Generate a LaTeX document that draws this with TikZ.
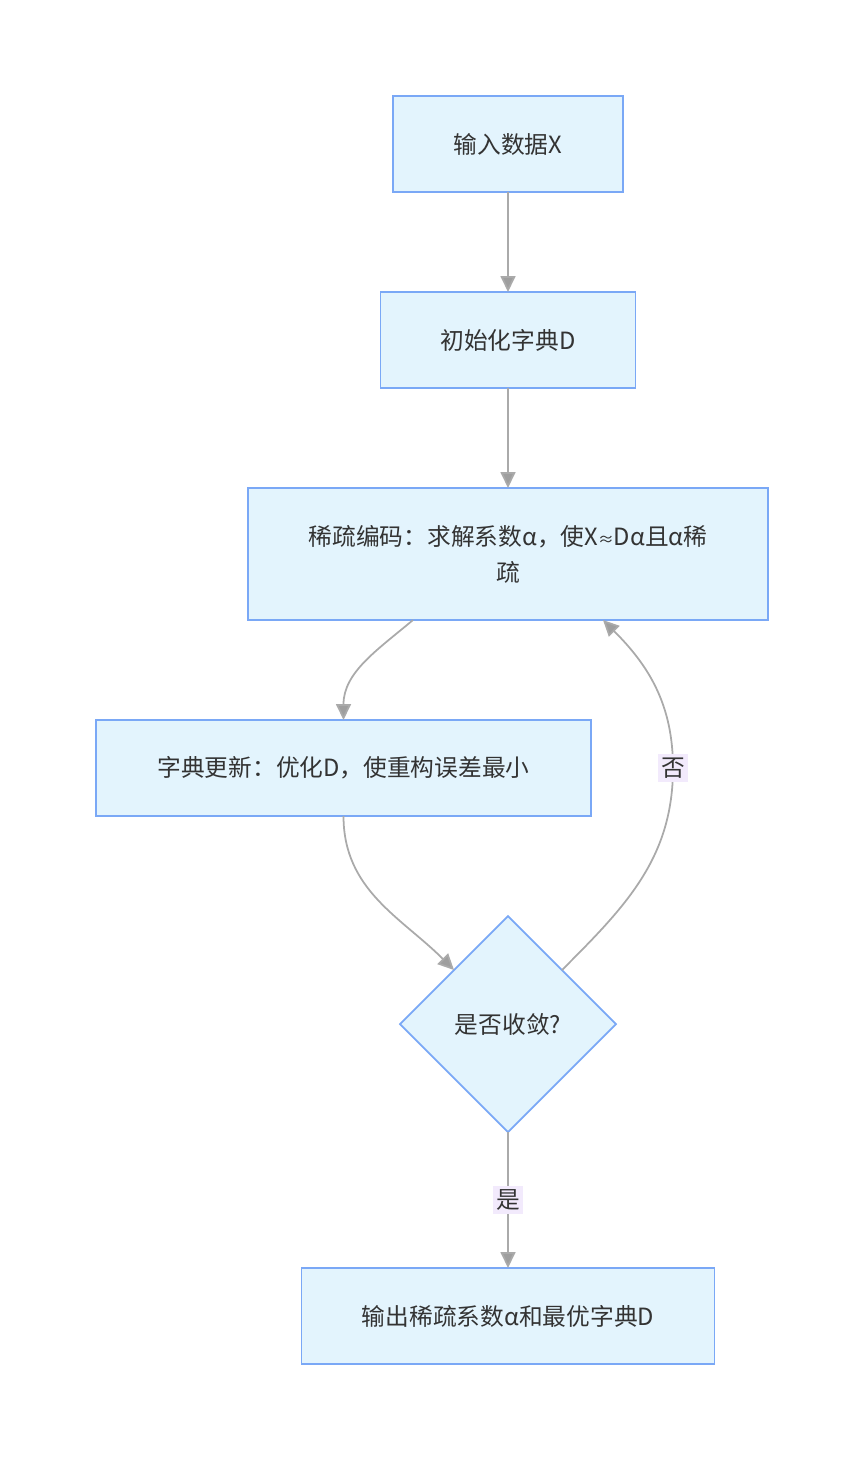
\documentclass[tikz,border=0pt]{standalone}
\usepackage{fontspec}
\setmainfont{Noto Sans CJK SC}
\usepackage{xcolor}
\usetikzlibrary{arrows.meta,positioning,shapes.geometric,calc}

\definecolor{boxfill}{HTML}{E3F4FD}
\definecolor{boxline}{HTML}{7AA8F6}
\definecolor{edgeline}{HTML}{AAAAAA}
\definecolor{tipfill}{HTML}{9E9E9E}
\definecolor{lblfill}{HTML}{F2EAFC}
\definecolor{txt}{HTML}{333333}

\begin{document}
\begin{tikzpicture}[
    node distance=2cm,
    box/.style={rectangle, draw=boxline, fill=boxfill, line width=1pt, outer sep=0pt, minimum height=1.92cm, align=center, text=txt, font=\fontsize{13.5}{20.5}\selectfont},
    dec/.style={diamond, draw=boxline, fill=boxfill, line width=1pt, outer sep=0pt, minimum size=4.32cm, inner sep=0pt, aspect=1, text=txt, font=\fontsize{13.5}{20.5}\selectfont},
    lbl/.style={fill=lblfill, inner sep=2pt, text=txt, font=\fontsize{13.5}{20.5}\selectfont},
    arr/.style={draw=edgeline, line width=1pt, -{Triangle[length=0.32cm, width=0.3cm, fill=tipfill]}}
  ]
    \useasboundingbox (0,0) rectangle (17.28,-29.2);
    \node[box, minimum width=4.6cm] (input) at (10.16,-2.88) {输入数据X};
    \node[box, minimum width=5.1cm, below=of input] (init) {初始化字典D};
    \node[box, minimum width=10.4cm, minimum height=2.64cm, below=of init] (code) {稀疏编码：求解系数α，使X{\fontsize{9}{9}\selectfont ≈}Dα且α稀\\疏};
    \node[box, minimum width=9.9cm, below=of code, xshift=-3.29cm] (update) {字典更新：优化D，使重构误差最小};
    \node[dec, below=of update, xshift=3.29cm] (conv) {是否收敛?\hspace{0.2cm}};
    \node[box, minimum width=8.26cm, below=2.72cm of conv] (output) {输出稀疏系数α和最优字典D};
    \coordinate (nobend) at ($(update)+(6.59cm,0)$);

    \draw[arr] (input) -- (init);
    \draw[arr] (init) -- (code);
    \draw[arr] ([xshift=-1.9cm]code.south) to[out=-140, in=90] (update.north);
    \draw[arr] (update.south) to[out=-90, in=135] (conv.north west);
    \draw[arr] (conv.north east) to[out=45, in=-90] (nobend) to[out=90, in=-45] ([xshift=1.9cm]code.south);
    \draw[arr] (conv) -- node[lbl] (yes) {是} (output);
    \node[lbl] (no) at (nobend) {否};
  \end{tikzpicture}
\end{document}
